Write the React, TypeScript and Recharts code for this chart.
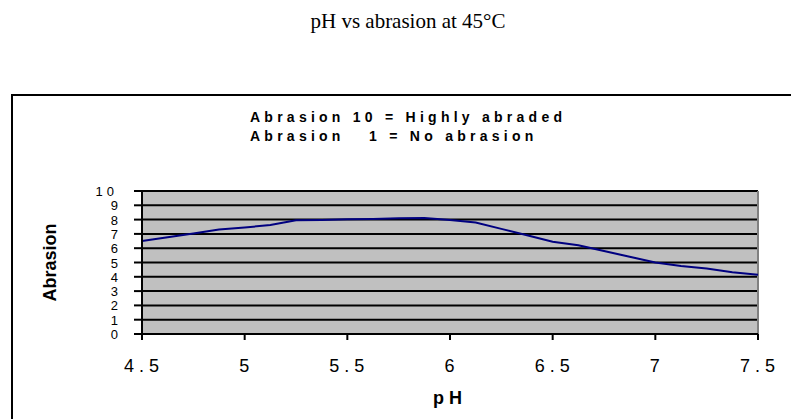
import React from "react";
import {
  LineChart,
  Line,
  XAxis,
  YAxis,
  CartesianGrid,
  ReferenceLine,
} from "recharts";

const phValues = [
  4.5, 4.625, 4.75, 4.875, 5.0, 5.125, 5.25, 5.375, 5.5, 5.625, 5.75, 5.875,
  6.0, 6.125, 6.25, 6.375, 6.5, 6.625, 6.75, 6.875, 7.0, 7.125, 7.25, 7.375,
  7.5,
];
const abrasionValues = [
  6.5, 6.77, 7.03, 7.3, 7.45, 7.62, 7.95, 7.98, 8.02, 8.05, 8.1, 8.12, 7.98,
  7.8, 7.35, 6.9, 6.45, 6.2, 5.8, 5.4, 5.0, 4.75, 4.58, 4.32, 4.15,
];
const xTicks = [4.5, 5, 5.5, 6, 6.5, 7, 7.5];
const yTicks = [0, 1, 2, 3, 4, 5, 6, 7, 8, 9, 10];

const chartData = phValues.map((ph, i) => ({
  ph,
  abrasion: abrasionValues[i],
}));

const sans = "'Liberation Sans', Arial, sans-serif";

const XTick = ({ x, y, payload }: any) => (
  <text
    x={x + 2}
    y={y + 30}
    textAnchor="middle"
    fontFamily={sans}
    fontSize={18}
    letterSpacing={5}
    fill="#000"
  >
    {String(payload.value)}
  </text>
);

const YTick = ({ y, payload }: any) => (
  <text
    x={118}
    y={y}
    dy={5}
    textAnchor="end"
    fontFamily={sans}
    fontSize={13}
    letterSpacing={payload.value === 10 ? 4 : 0}
    fill="#000"
  >
    {String(payload.value)}
  </text>
);

export default function App() {
  return (
    <div
      style={{
        position: "absolute",
        left: 0,
        top: 0,
        width: 791,
        height: 419,
        background: "#fff",
        overflow: "hidden",
      }}
    >
      <div
        style={{
          position: "absolute",
          left: 0,
          width: 816,
          top: 7,
          textAlign: "center",
          fontFamily: "'Liberation Serif', 'Times New Roman', serif",
          fontSize: 21,
          lineHeight: "28px",
        }}
      >
        pH vs abrasion at 45°C
      </div>
      <div
        style={{
          position: "absolute",
          left: 11,
          top: 94,
          width: 820,
          height: 400,
          border: "2px solid #000",
        }}
      />
      <div
        style={{
          position: "absolute",
          left: 250,
          top: 108,
          fontFamily: sans,
          fontWeight: "bold",
          fontSize: 14,
          letterSpacing: 4.25,
          lineHeight: "19px",
          whiteSpace: "pre",
        }}
      >
        {"Abrasion 10 = Highly abraded\nAbrasion   1 = No abrasion"}
      </div>
      <div style={{ position: "absolute", left: 0, top: 0 }}>
        <LineChart
          width={791}
          height={419}
          data={chartData}
          margin={{ top: 191, right: 33, bottom: 0, left: 0 }}
        >
          <CartesianGrid
            vertical={false}
            stroke="#000"
            strokeWidth={2}
            fill="#c0c0c0"
            fillOpacity={1}
          />
          <XAxis
            dataKey="ph"
            type="number"
            domain={[4.5, 7.5]}
            ticks={xTicks}
            interval={0}
            height={85}
            tick={<XTick />}
            tickSize={6}
            tickLine={{ stroke: "#000", strokeWidth: 2 }}
            axisLine={{ stroke: "#000", strokeWidth: 2 }}
            label={{
              value: "pH",
              position: "insideBottom",
              offset: 15,
              style: {
                fontFamily: sans,
                fontWeight: "bold",
                fontSize: 18,
                letterSpacing: 5,
                fill: "#000",
              },
            }}
          />
          <YAxis
            type="number"
            domain={[0, 10]}
            ticks={yTicks}
            interval={0}
            width={142}
            tick={<YTick />}
            tickSize={8}
            tickLine={{ stroke: "#000", strokeWidth: 2 }}
            axisLine={{ stroke: "#000", strokeWidth: 2 }}
            label={{
              value: "Abrasion",
              angle: -90,
              position: "insideLeft",
              offset: 50,
              style: {
                fontFamily: sans,
                fontWeight: "bold",
                fontSize: 18,
                fill: "#000",
                textAnchor: "middle",
              },
            }}
          />
          <ReferenceLine x={7.5} stroke="#808080" strokeWidth={2} />
          <Line
            type="linear"
            dataKey="abrasion"
            stroke="#000080"
            strokeWidth={2}
            dot={false}
            isAnimationActive={false}
          />
        </LineChart>
      </div>
    </div>
  );
}
